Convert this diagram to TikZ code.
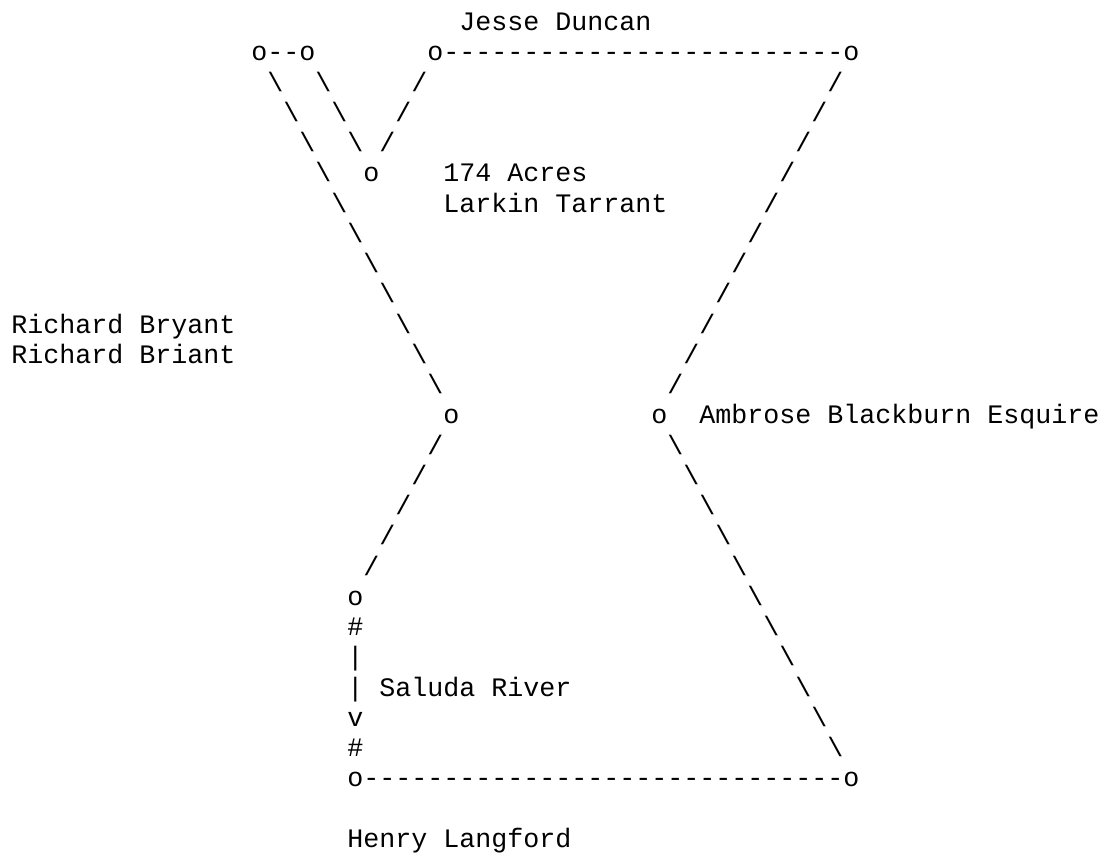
\documentclass[tikz,border=0pt]{standalone}
\usepackage{fontspec}
\newfontfamily\asciifont{Liberation Mono}
\newcommand{\bs}{\textbackslash}
\newcommand{\asciirun}[4]{\node[asciitext] (#1) at ({11.4+16*#2},{-(30.6+30.25*#3)}) {#4};}
\tikzset{asciitext/.style={anchor=base west,inner sep=0pt,outer sep=0pt,text=black,font=\asciifont\fontsize{26.67}{30}\selectfont}}
\begin{document}
\begin{tikzpicture}[x=1pt,y=1pt]
\useasboundingbox (0,-854) rectangle (1104,0);
\fill[white] (0,-854) rectangle (1104,0);
\asciirun{jesse}{28}{0}{Jesse Duncan}
\asciirun{oa}{15}{1}{o--o}
\asciirun{ob}{26}{1}{o-------------------------o}
\asciirun{a2}{16}{2}{\bs}
\asciirun{b2}{19}{2}{\bs}
\asciirun{c2}{25}{2}{/}
\asciirun{d2}{51}{2}{/}
\asciirun{a3}{17}{3}{\bs}
\asciirun{b3}{20}{3}{\bs}
\asciirun{c3}{24}{3}{/}
\asciirun{d3}{50}{3}{/}
\asciirun{a4}{18}{4}{\bs}
\asciirun{b4}{21}{4}{\bs}
\asciirun{c4}{23}{4}{/}
\asciirun{d4}{49}{4}{/}
\asciirun{a5}{19}{5}{\bs}
\asciirun{o5}{22}{5}{o}
\asciirun{acres}{27}{5}{174 Acres}
\asciirun{d5}{48}{5}{/}
\asciirun{a6}{20}{6}{\bs}
\asciirun{larkin}{27}{6}{Larkin Tarrant}
\asciirun{d6}{47}{6}{/}
\asciirun{a7}{21}{7}{\bs}
\asciirun{d7}{46}{7}{/}
\asciirun{a8}{22}{8}{\bs}
\asciirun{d8}{45}{8}{/}
\asciirun{a9}{23}{9}{\bs}
\asciirun{d9}{44}{9}{/}
\asciirun{bryant}{0}{10}{Richard Bryant}
\asciirun{a10}{24}{10}{\bs}
\asciirun{d10}{43}{10}{/}
\asciirun{briant}{0}{11}{Richard Briant}
\asciirun{a11}{25}{11}{\bs}
\asciirun{d11}{42}{11}{/}
\asciirun{a12}{26}{12}{\bs}
\asciirun{d12}{41}{12}{/}
\asciirun{o13a}{27}{13}{o}
\asciirun{o13b}{40}{13}{o}
\asciirun{ambrose}{43}{13}{Ambrose Blackburn Esquire}
\asciirun{a14}{26}{14}{/}
\asciirun{d14}{41}{14}{\bs}
\asciirun{a15}{25}{15}{/}
\asciirun{d15}{42}{15}{\bs}
\asciirun{a16}{24}{16}{/}
\asciirun{d16}{43}{16}{\bs}
\asciirun{a17}{23}{17}{/}
\asciirun{d17}{44}{17}{\bs}
\asciirun{a18}{22}{18}{/}
\asciirun{d18}{45}{18}{\bs}
\asciirun{o19}{21}{19}{o}
\asciirun{d19}{46}{19}{\bs}
\asciirun{h20}{21}{20}{\#}
\asciirun{d20}{47}{20}{\bs}
\asciirun{p21}{21}{21}{|}
\asciirun{d21}{48}{21}{\bs}
\asciirun{p22}{21}{22}{|}
\asciirun{saluda}{23}{22}{Saluda River}
\asciirun{d22}{49}{22}{\bs}
\asciirun{v23}{21}{23}{v}
\asciirun{d23}{50}{23}{\bs}
\asciirun{h24}{21}{24}{\#}
\asciirun{d24}{51}{24}{\bs}
\asciirun{bottom}{21}{25}{o------------------------------o}
\asciirun{henry}{21}{27}{Henry Langford}
\end{tikzpicture}
\end{document}
